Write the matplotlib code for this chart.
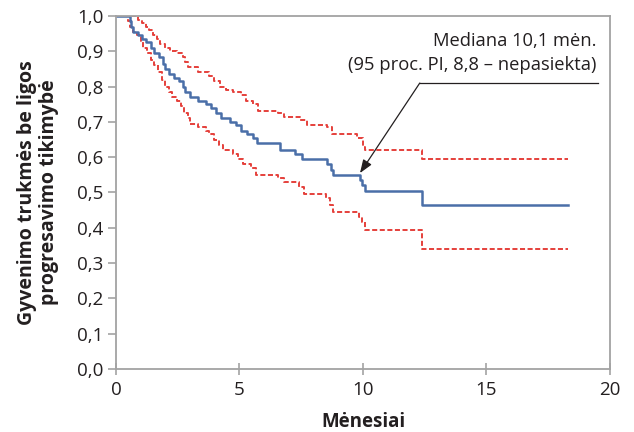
import matplotlib
matplotlib.use("Agg")
import matplotlib.pyplot as plt
from matplotlib.ticker import FuncFormatter

plt.rcParams['font.family'] = ['Open Sans', 'DejaVu Sans']

# Kaplan-Meier median curve (step change points)
median_t = [0.0, 0.55, 0.62, 0.70, 0.90, 1.05, 1.20, 1.40, 1.55, 1.75, 1.90, 2.00, 2.15, 2.35,
            2.55, 2.70, 2.80, 3.00, 3.30, 3.65, 3.85, 4.05, 4.25, 4.60, 4.85, 5.05, 5.30, 5.55,
            5.70, 6.65, 7.25, 7.55, 8.55, 8.70, 8.80, 9.90, 9.97, 10.10, 12.40, 18.3]
median_s = [1.00, 0.985, 0.97, 0.955, 0.945, 0.935, 0.925, 0.91, 0.895, 0.885, 0.865, 0.85, 0.835, 0.825,
            0.815, 0.80, 0.785, 0.77, 0.76, 0.75, 0.74, 0.725, 0.71, 0.70, 0.69, 0.675, 0.665, 0.655,
            0.64, 0.62, 0.61, 0.595, 0.58, 0.565, 0.55, 0.535, 0.52, 0.505, 0.465, 0.465]

# Upper 95% CI
upper_t = [0.0, 0.90, 1.05, 1.20, 1.35, 1.50, 1.65, 1.80, 2.00, 2.20, 2.45, 2.70, 2.80, 2.92,
           3.30, 3.75, 3.95, 4.20, 4.45, 4.75, 5.05, 5.25, 5.55, 5.75, 6.55, 6.80, 7.45, 7.75,
           8.55, 8.75, 9.75, 10.00, 10.10, 12.40, 18.3]
upper_s = [1.00, 0.99, 0.98, 0.97, 0.96, 0.945, 0.935, 0.92, 0.91, 0.90, 0.895, 0.885, 0.87, 0.855,
           0.84, 0.83, 0.815, 0.80, 0.79, 0.785, 0.775, 0.76, 0.75, 0.73, 0.725, 0.715, 0.705, 0.69,
           0.685, 0.665, 0.655, 0.63, 0.62, 0.595, 0.595]

# Lower 95% CI
lower_t = [0.0, 0.50, 0.58, 0.68, 0.85, 1.00, 1.10, 1.25, 1.40, 1.55, 1.70, 1.85, 2.00, 2.15,
           2.25, 2.45, 2.65, 2.75, 2.90, 2.98, 3.30, 3.65, 3.75, 3.95, 4.15, 4.35, 4.75, 4.95,
           5.15, 5.45, 5.65, 6.55, 6.80, 7.40, 7.60, 8.50, 8.65, 8.80, 9.85, 9.95, 10.10, 12.40, 18.3]
lower_s = [1.00, 0.985, 0.97, 0.955, 0.945, 0.93, 0.91, 0.895, 0.875, 0.86, 0.84, 0.82, 0.80, 0.785,
           0.77, 0.76, 0.745, 0.725, 0.71, 0.695, 0.685, 0.675, 0.665, 0.65, 0.635, 0.62, 0.61, 0.595,
           0.58, 0.57, 0.55, 0.54, 0.53, 0.515, 0.495, 0.485, 0.465, 0.445, 0.43, 0.415, 0.395, 0.34, 0.34]

x_ticks = [0, 5, 10, 15, 20]
y_ticks = [0.0, 0.1, 0.2, 0.3, 0.4, 0.5, 0.6, 0.7, 0.8, 0.9, 1.0]

annot_text = "Mediana 10,1 mėn.\n(95 proc. PI, 8,8 – nepasiekta)"
annot_tip = (9.88, 0.555)
annot_elbow = (12.3, 0.81)
annot_end_x = 19.5

fig = plt.figure(figsize=(6.34, 4.32), dpi=100)
ax = fig.add_axes([0.183, 0.146, 0.779, 0.817])

red = '#e5403b'
blue = '#4a6fa8'
ax.step(upper_t, upper_s, where='post', color=red, lw=1.4, linestyle=(0, (2.6, 1.3)))
ax.step(lower_t, lower_s, where='post', color=red, lw=1.4, linestyle=(0, (2.6, 1.3)))
ax.step(median_t, median_s, where='post', color=blue, lw=1.8)

ax.set_xlim(0, 20)
ax.set_ylim(0, 1.0)
ax.set_xticks(x_ticks)
ax.set_yticks(y_ticks)
ax.yaxis.set_major_formatter(FuncFormatter(lambda v, p: f"{v:.1f}".replace('.', ',')))
ax.xaxis.set_major_formatter(FuncFormatter(lambda v, p: f"{int(v)}"))

spine_c = '#a3a3a3'
for s in ax.spines.values():
    s.set_color(spine_c)
    s.set_linewidth(1.3)
ax.tick_params(axis='y', direction='out', length=6, width=1.2, color=spine_c,
               labelsize=13.5, pad=3, labelcolor='#231f20')
ax.tick_params(axis='x', direction='inout', length=8, width=1.2, color=spine_c,
               labelsize=13.5, pad=5, labelcolor='#231f20')

ax.set_xlabel("Mėnesiai", fontsize=13.5, fontweight='bold', color='#231f20', labelpad=9)
ax.set_ylabel("Gyvenimo trukmės be ligos\nprogresavimo tikimybė", fontsize=14,
              fontweight='bold', color='#231f20', labelpad=13, linespacing=1.15)

# annotation
ax.plot([annot_elbow[0], annot_end_x], [annot_elbow[1], annot_elbow[1]], color='#231f20', lw=0.9)
ax.annotate('', xy=annot_tip, xytext=annot_elbow,
            arrowprops=dict(arrowstyle='-|>,head_length=0.8,head_width=0.3', color='#231f20',
                            lw=0.9, shrinkA=0, shrinkB=0))
ax.text(19.45, 0.895, annot_text, ha='right', va='center', multialignment='right',
        fontsize=13.2, color='#231f20', linespacing=1.4)

fig.savefig("out.png", dpi=100)
